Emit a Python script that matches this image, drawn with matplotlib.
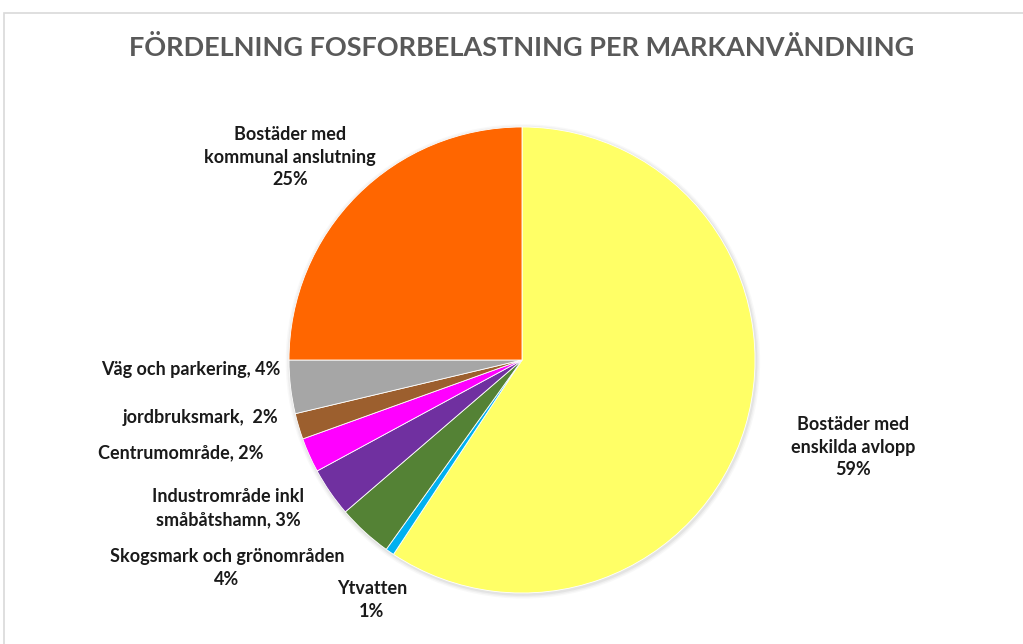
import matplotlib
matplotlib.use("Agg")
import matplotlib.pyplot as plt
from matplotlib.patches import Rectangle, Circle

categories = ["Bostäder med\nenskilda avlopp", "Ytvatten", "Skogsmark och grönområden",
              "Industrområde inkl\nsmåbåtshamn", "Centrumområde", "jordbruksmark",
              "Väg och parkering", "Bostäder med\nkommunal anslutning"]
values = [59.3, 0.6, 3.8, 3.4, 2.4, 1.8, 3.7, 25.0]
pct_labels = ["59%", "1%", "4%", "3%", "2%", "2%", "4%", "25%"]
colors = ["#FFFF66", "#00B0F0", "#548235", "#7030A0", "#FF00FF", "#9C5F2E", "#A6A6A6", "#FF6600"]

label_texts = [
    "Bostäder med\nenskilda avlopp\n59%",
    "Ytvatten\n1%",
    "Skogsmark och grönområden\n4%",
    "Industrområde inkl\nsmåbåtshamn, 3%",
    "Centrumområde, 2%",
    "jordbruksmark,  2%",
    "Väg och parkering, 4%",
    "Bostäder med\nkommunal anslutning\n25%",
]
# label centre positions in pixels (x, y from top)
label_pos = [(853, 447), (372, 600), (227, 568), (228, 508), (181, 453), (200, 418), (191, 370), (290, 157)]

W, H = 1023, 644
fig = plt.figure(figsize=(W / 100, H / 100), dpi=100)
fig.patch.set_facecolor("white")

# chart frame
fig.patches.append(Rectangle((4 / W, -0.1), 1.2, 1 - 13 / H + 0.1, transform=fig.transFigure,
                             fill=False, edgecolor="#D9D9D9", linewidth=1.2))

cx, cy, r = 522, 360, 233
pad = 1.05
ax = fig.add_axes([(cx - r * pad) / W, (H - cy - r * pad) / H, 2 * r * pad / W, 2 * r * pad / H])
# soft shadow
for k, a in [(1.018, 0.05), (1.012, 0.07), (1.006, 0.10)]:
    ax.add_patch(Circle((0.004, -0.006), k, color="#808080", alpha=a, lw=0, zorder=0))
ax.pie(values, colors=colors, startangle=90, counterclock=False, radius=1,
       wedgeprops=dict(edgecolor="white", linewidth=0.6, zorder=2))
ax.set_xlim(-pad, pad)
ax.set_ylim(-pad, pad)
ax.set_aspect("equal")
ax.axis("off")

font = "Lato"
fig.text(522 / W, 1 - 48 / H, "FÖRDELNING FOSFORBELASTNING PER MARKANVÄNDNING",
         ha="center", va="center", fontsize=19.5, fontweight="bold", color="#595959", family=font)

for txt, (x, y) in zip(label_texts, label_pos):
    fig.text(x / W, 1 - y / H, txt, ha="center", va="center", fontsize=13,
             fontweight="bold", color="#1a1a1a", family=font, linespacing=1.42)

fig.savefig("out.png", dpi=100)
